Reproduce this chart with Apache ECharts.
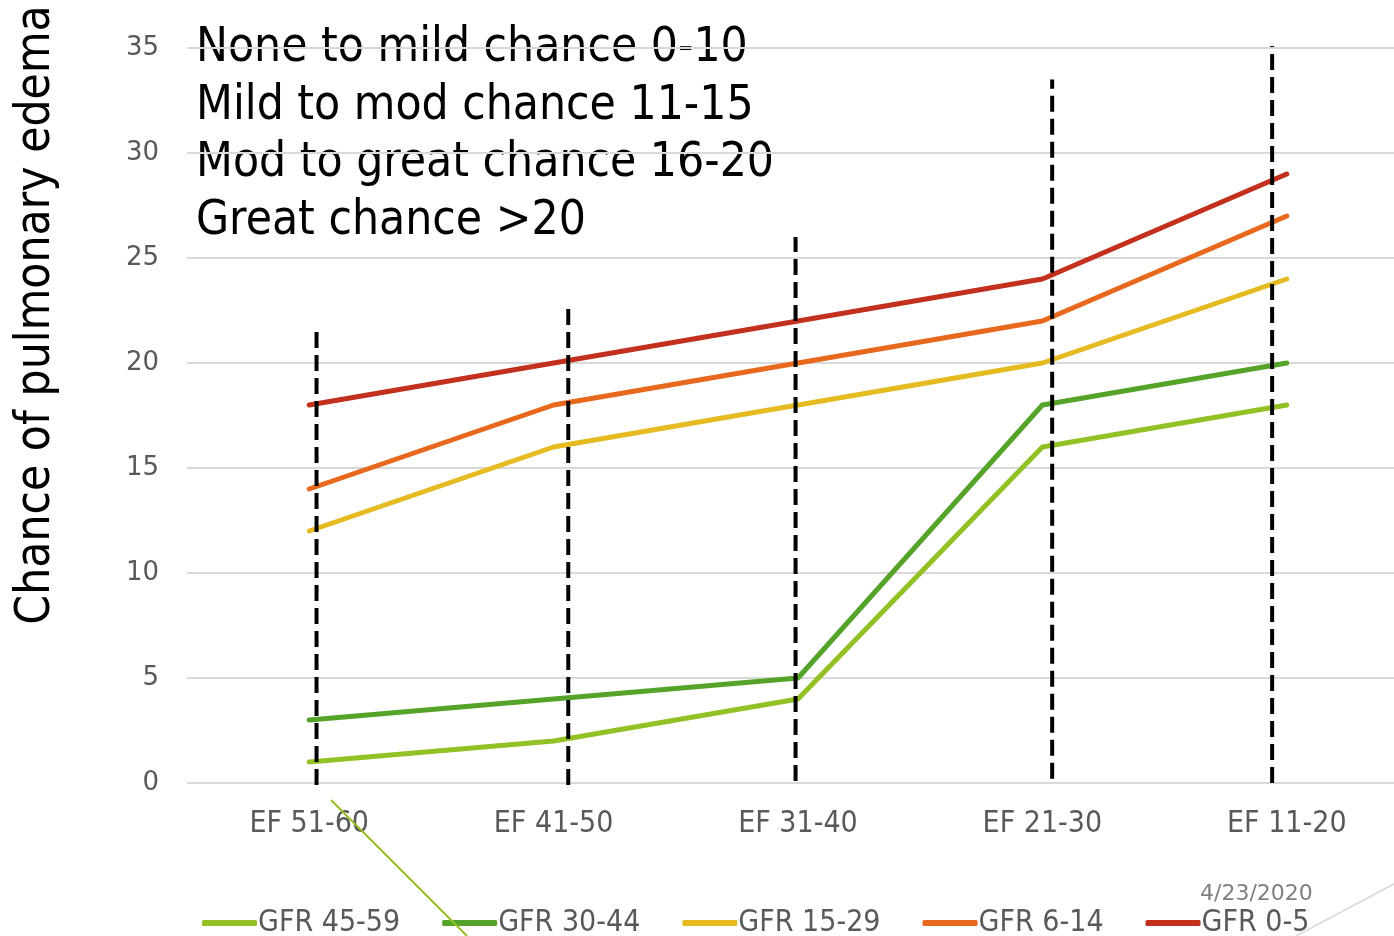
<!DOCTYPE html>
<html>
<head>
<meta charset="utf-8">
<script src="https://cdn.jsdelivr.net/npm/echarts@6/dist/echarts.min.js"></script>
<style>
html,body{margin:0;padding:0;background:#fff;overflow:hidden;}
#chart{width:1409px;height:936px;}
</style>
</head>
<body>
<div id="chart"></div>
<script>
var chart=echarts.init(document.getElementById('chart'));

var categories=['EF 51-60','EF 41-50','EF 31-40','EF 21-30','EF 11-20'];
var gfr4559=[1,2,4,16,18];
var gfr3044=[3,4,5,18,20];
var gfr1529=[12,16,18,20,24];
var gfr614=[14,18,20,22,27];
var gfr05=[18,20,22,24,29];
var seriesNames=['GFR 45-59','GFR 30-44','GFR 15-29','GFR 6-14','GFR 0-5'];
var colors=['#92c125','#56a32a','#e6bb22','#e8691d','#c3301d'];
var yTicks=[0,5,10,15,20,25,30,35];
// dashed markers (position in category units, bottom, top)
var dashX=[0.03,1.06,1.99,3.04,3.94];
var dashBottom=[-0.1,-0.1,0.1,0.2,0];
var dashTop=[21.8,22.9,26,33.5,35.3];
var notes=['None to mild chance 0-10','Mild to mod chance 11-15','Mod to great chance 16-20','Great chance >20'];

var narrow='"Liberation Sans Narrow","DejaVu Sans Condensed",sans-serif';

var allData=[gfr4559,gfr3044,gfr1529,gfr614,gfr05];
var series=[];
for(var i=0;i<allData.length;i++){
  series.push({
    name:seriesNames[i],
    type:'line',
    data:allData[i],
    showSymbol:false,
    symbol:'none',
    lineStyle:{color:colors[i],width:5,cap:'round',join:'round'},
    itemStyle:{color:colors[i]},
    z:2
  });
}
for(var j=0;j<dashX.length;j++){
  series.push({
    type:'line',
    xAxisIndex:1,
    data:[[dashX[j],dashBottom[j]],[dashX[j],dashTop[j]]],
    symbol:'none',
    lineStyle:{color:'#000',width:4,type:[16,7]},
    z:5,
    silent:true
  });
}

var notesText=[];
for(var k=0;k<notes.length;k++){
  notesText.push({
    type:'text',left:196,top:25+k*57.5,
    style:{text:notes[k],font:'47.5px '+narrow,fill:'#000'}
  });
}

var option={
  animation:false,
  grid:{left:187,right:0,top:48,bottom:153,outerBoundsMode:'none'},
  legend:{
    data:seriesNames,
    left:197,top:903,
    itemWidth:55,itemHeight:6,itemGap:42,
    icon:'roundRect',
    textStyle:{color:'#595959',fontSize:30,fontFamily:narrow,padding:[0,0,0,-4]}
  },
  xAxis:[{
    type:'category',
    data:categories,
    axisLine:{show:false},
    axisTick:{show:false},
    axisLabel:{color:'#595959',fontSize:30,fontFamily:narrow,margin:26}
  },{
    type:'value',min:-0.5,max:4.5,show:false
  }],
  yAxis:{
    type:'value',min:0,max:35,interval:5,
    axisLine:{show:false},
    axisTick:{show:false},
    axisLabel:{color:'#595959',fontSize:26,fontFamily:'DejaVu Sans',margin:28,
      formatter:function(v){return yTicks.indexOf(v)>=0?String(v):'';}},
    splitLine:{lineStyle:{color:'#d9d9d9',width:2}}
  },
  graphic:[].concat(notesText,[
    {type:'text',x:37,y:315,rotation:Math.PI/2,
      style:{text:'Chance of pulmonary edema',font:'47.5px '+narrow,fill:'#000',align:'center',verticalAlign:'middle'}},
    {type:'text',left:1200,top:883,
      style:{text:'4/23/2020',font:'22px "DejaVu Sans"',fill:'#7f7f7f'}},
    {type:'line',shape:{x1:331,y1:800,x2:467,y2:936},style:{stroke:'#92c125',lineWidth:2},z:10},
    {type:'line',shape:{x1:1296,y1:936,x2:1394,y2:884},style:{stroke:'#d9d9d9',lineWidth:1.5},z:10}
  ]),
  series:series
};
chart.setOption(option);
</script>
</body>
</html>
